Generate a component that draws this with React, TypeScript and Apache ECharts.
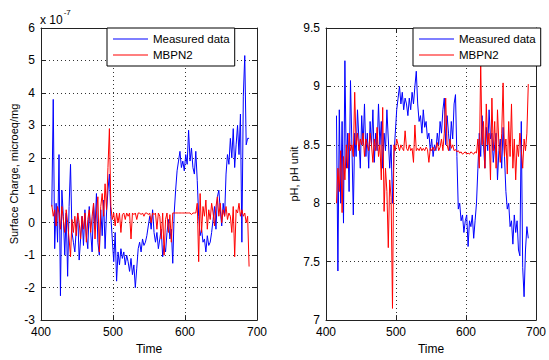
import React, { useEffect, useRef } from "react";
import * as echarts from "echarts";

const TIMES = [
  415, 417, 419, 421, 423, 425, 427, 429, 431, 433,
  435, 437, 439, 441, 443, 445, 447, 449, 451, 453,
  455, 457, 459, 461, 463, 465, 467, 469, 471, 473,
  475, 477, 479, 481, 483, 485, 487, 489, 491, 493,
  495, 497, 499, 501, 503, 505, 507, 509, 511, 513,
  515, 517, 519, 521, 523, 525, 527, 529, 531, 533,
  535, 537, 539, 541, 543, 545, 547, 549, 551, 553,
  555, 557, 559, 561, 563, 565, 567, 569, 571, 573,
  575, 577, 579, 581, 583, 585, 587, 589, 591, 593,
  595, 597, 599, 601, 603, 605, 607, 609, 611, 613,
  615, 617, 619, 621, 623, 625, 627, 629, 631, 633,
  635, 637, 639, 641, 643, 645, 647, 649, 651, 653,
  655, 657, 659, 661, 663, 665, 667, 669, 671, 673,
  675, 677, 679, 681, 683, 685, 687, 689,
];

// Surface charge, in units of 1e-7 microeq/mg
const CHARGE_MEASURED = [
  0.5, 3.8, -0.8, 0.6, -0.6, 2.1, -2.25, 1.0, 0.2, -1.0,
  0.3, -1.65, 0.5, 1.8, -0.3, -0.6, -0.9, -0.2, 0.3, -1.15,
  -0.5, 0.2, -0.7, 0.4, -0.4, -0.8, 0.5, -0.3, -0.9, 0.6,
  -0.2, 0.9, -0.6, -1.0, 0.4, -0.4, 0.7, -0.8, 0.3, 1.0,
  1.5, 0.2, -0.5, -1.2, -0.3, -1.8, -0.9, -1.3, -0.8, -1.1,
  -0.9, -1.3, -1.0, -1.2, -1.5, -1.1, -1.6, -1.3, -2.0, -1.4,
  -0.8, -0.6, -0.9, -0.5, -0.7, -0.6, -0.4, -0.1, 0.2, -0.2,
  0.4, -0.3, -0.6, -0.3, -0.8, -0.5, -0.2, -1.05, -0.7, -0.9,
  -0.3, 0.1, -0.5, -0.2, -1.25, 0.3, 1.0, 1.6, 1.9, 2.2,
  1.7, 1.9, 1.6, 2.1, 1.8, 2.85, 1.9, 2.3, 1.7, 1.5,
  2.2, 1.3, 0.2, -0.4, -0.2, -0.6, -0.5, -0.9, -0.4, -0.7,
  -0.6, -0.3, 0.1, 0.5, -0.2, 0.8, 1.0, 0.4, -0.1, 0.6,
  0.2, 1.5, 2.1, 1.8, 2.6, 2.0, 2.9, 1.7, 2.4, 3.0,
  2.1, 3.35, -0.6, 3.9, 5.15, 2.4, 2.6, 2.6,
];

const CHARGE_MBPN2 = [
  0.55, 0.2, 0.4, -0.1, 0.5, 0.3, -0.2, 0.5, 0.1, -0.3,
  0.4, 0.0, -0.5, -1.05, 0.1, -0.3, 0.2, -0.4, 0.3, 0.0,
  -0.5, 0.2, -0.2, 0.3, -0.6, 0.1, 0.4, -0.3, 0.2, 0.6,
  -0.5, 0.3, 0.8, -0.9, 0.5, 0.9, 0.2, 1.2, 0.4, 1.7,
  2.9, 0.5, 0.1, 0.3, -0.1, 0.3, 0.0, 0.3, -0.3, 0.25,
  0.3, 0.1, 0.3, 0.2, 0.3, -0.5, 0.3, 0.25, 0.3, 0.1,
  0.3, 0.3, 0.25, 0.3, 0.2, 0.3, 0.3, 0.25, 0.3, 0.0,
  0.3, 0.25, 0.3, -0.2, 0.3, 0.2, -0.5, 0.3, -1.0, 0.1,
  0.3, -0.3, 0.25, -0.6, 0.3, 0.3, 0.3, 0.3, 0.3, 0.3,
  0.3, 0.3, 0.3, 0.3, 0.3, 0.3, 0.3, 0.25, 0.3, 0.3,
  0.3, 0.6, -1.2, 0.9, -0.3, 0.5, 0.2, 0.7, -0.2, 0.4,
  0.1, 0.6, 0.3, -0.1, 0.5, 0.8, 0.2, 0.6, 0.0, 0.4,
  0.2, 0.5, 0.1, 0.3, 0.2, -0.3, 0.5, -1.05, 0.4, 0.3,
  0.6, 0.2, 0.4, 0.2, 0.3, 0.0, 0.2, -1.35,
];

const PH_MEASURED = [
  8.75, 7.42, 8.8, 8.0, 8.7, 7.83, 9.22, 8.3, 8.6, 8.1,
  9.05, 8.5, 7.9, 8.6, 8.4, 8.8, 8.55, 8.3, 8.75, 8.5,
  8.85, 8.4, 8.6, 8.3, 8.7, 8.5, 8.8, 8.35, 8.6, 8.45,
  8.85, 8.5, 8.7, 8.3, 8.6, 8.45, 8.8, 8.55, 8.3, 8.5,
  8.0, 8.4, 8.6, 8.8, 8.9, 9.0, 8.85, 8.95, 8.8, 8.9,
  8.85, 8.75, 8.9, 8.8, 8.95, 8.85, 9.0, 9.13, 8.85, 8.7,
  8.75, 8.6, 8.8, 8.65, 8.7, 8.55, 8.6, 8.45, 8.55, 8.4,
  8.5, 8.45, 8.6, 8.5, 8.7, 8.6, 8.8, 8.9, 8.5, 8.75,
  8.6, 8.45, 8.7, 8.55, 8.85, 8.93, 8.4, 7.95, 8.0, 7.85,
  7.9, 7.75, 7.85, 7.9, 7.63, 7.85, 7.8, 7.9, 7.7, 7.85,
  8.0, 8.3, 8.6, 8.4, 8.75, 8.5, 8.3, 8.65, 8.45, 8.8,
  8.55, 8.6, 8.35, 8.5, 8.6, 8.2, 8.45, 8.55, 8.3, 8.65,
  8.4, 8.1, 7.95, 8.0, 7.8, 7.85, 7.65, 7.9, 7.75, 7.85,
  7.6, 7.55, 8.7, 7.45, 7.2, 7.6, 7.8, 7.7,
];

const PH_MBPN2 = [
  8.0, 8.3, 8.1, 8.45, 7.92, 8.4, 8.2, 8.5, 8.3, 8.6,
  8.45, 8.5, 8.4, 8.95, 8.5, 8.6, 8.45, 8.55, 8.5, 8.6,
  8.4, 8.55, 8.5, 8.45, 8.6, 8.5, 8.35, 8.55, 8.45, 8.65,
  8.4, 8.5, 8.2, 8.82, 7.93, 8.3, 8.1, 7.62, 8.2, 8.05,
  7.1, 8.5, 8.45, 8.55, 8.5, 8.45, 8.5, 8.47, 8.45, 8.62,
  8.47, 8.45, 8.5, 8.45, 8.47, 8.35, 8.67, 8.45, 8.47, 8.45,
  8.48, 8.45, 8.47, 8.45, 8.48, 8.46, 8.35, 8.47, 8.45, 8.48,
  8.45, 8.47, 8.52, 8.45, 8.48, 8.55, 8.45, 8.6, 8.9, 8.5,
  8.45, 8.55, 8.47, 8.5, 8.45, 8.46, 8.44, 8.45, 8.43, 8.44,
  8.42, 8.43, 8.44, 8.42, 8.43, 8.42, 8.44, 8.43, 8.42, 8.44,
  8.43, 8.55, 8.3, 9.2, 8.5, 8.7, 8.3, 8.85, 8.5, 8.6,
  8.2, 8.9, 8.45, 8.7, 8.3, 8.8, 8.5, 8.35, 8.6, 9.03,
  8.4, 8.55, 8.25, 8.7, 8.4, 8.85, 8.3, 8.55, 8.2, 8.5,
  8.4, 8.6, 8.45, 8.3, 8.55, 8.45, 8.6, 9.02,
];

const SERIES_NAMES = ["Measured data", "MBPN2"];
const X_LABEL = "Time";
const Y_LABEL_LEFT = "Surface Charge, microeq/mg";
const Y_LABEL_RIGHT = "pH, pH unit";

const FONT = "'Liberation Sans', Arial, Helvetica, sans-serif";
const AXIS_COLOR = "#222";
const DOT = { color: "#333", type: [1, 3] as number[], width: 1 };

function pairs(vals: number[]) {
  return TIMES.map((t, i) => [t, vals[i]]);
}

export default function App() {
  const ref = useRef<HTMLDivElement>(null);
  useEffect(() => {
    if (!ref.current) return;
    const chart = echarts.init(ref.current, undefined, { renderer: "svg" });

    const mainX = (gridIndex: number) => ({
      type: "value",
      gridIndex,
      min: 400,
      max: 700,
      interval: 100,
      name: X_LABEL,
      nameLocation: "middle",
      nameGap: 18,
      nameTextStyle: { fontFamily: FONT, fontSize: 12, color: "#000" },
      axisLine: { show: true, onZero: false, lineStyle: { color: AXIS_COLOR } },
      axisTick: { show: true, inside: true, length: 5, lineStyle: { color: AXIS_COLOR } },
      axisLabel: { fontFamily: FONT, fontSize: 12, lineHeight: 12, color: "#000", margin: 6 },
      splitLine: { show: true, lineStyle: DOT },
    });
    const topX = (gridIndex: number) => ({
      type: "value",
      gridIndex,
      position: "top",
      min: 400,
      max: 700,
      interval: 100,
      axisLine: { show: true, onZero: false, lineStyle: { color: AXIS_COLOR } },
      axisTick: { show: true, inside: true, length: 5, lineStyle: { color: AXIS_COLOR } },
      axisLabel: { show: false },
      splitLine: { show: false },
    });
    const mainY = (gridIndex: number, min: number, max: number, interval: number, name: string, gap: number) => ({
      type: "value",
      gridIndex,
      min,
      max,
      interval,
      name,
      nameLocation: "middle",
      nameGap: gap,
      nameRotate: 90,
      nameTextStyle: { fontFamily: FONT, fontSize: 11, color: "#000" },
      axisLine: { show: true, onZero: false, lineStyle: { color: AXIS_COLOR } },
      axisTick: { show: true, inside: true, length: 5, lineStyle: { color: AXIS_COLOR } },
      axisLabel: { fontFamily: FONT, fontSize: 12, lineHeight: 11, color: "#000", margin: 6 },
      splitLine: { show: true, lineStyle: DOT },
    });
    const rightY = (gridIndex: number, min: number, max: number, interval: number) => ({
      type: "value",
      gridIndex,
      position: "right",
      min,
      max,
      interval,
      axisLine: { show: true, onZero: false, lineStyle: { color: AXIS_COLOR } },
      axisTick: { show: true, inside: true, length: 5, lineStyle: { color: AXIS_COLOR } },
      axisLabel: { show: false },
      splitLine: { show: false },
    });

    const line = (name: string, color: string, xi: number, yi: number, vals: number[]) => ({
      type: "line",
      name,
      xAxisIndex: xi,
      yAxisIndex: yi,
      data: pairs(vals),
      symbol: "none",
      showSymbol: false,
      lineStyle: { color, width: 1 },
      itemStyle: { color },
    });

    const legend = (left: number) => ({
      left,
      top: 28,
      orient: "vertical",
      data: SERIES_NAMES,
      selectedMode: false,
      icon: "rect",
      backgroundColor: "#fff",
      borderColor: "#000",
      borderWidth: 1,
      borderRadius: 0,
      padding: [5, 5, 5, 6],
      itemWidth: 35,
      itemHeight: 1,
      itemGap: 4,
      textStyle: { fontFamily: FONT, fontSize: 11.5, color: "#000", lineHeight: 12 },
    });

    chart.setOption({
      animation: false,
      backgroundColor: "#fff",
      grid: [
        { left: 41, right: 292, top: 28, bottom: 29, show: false },
        { left: 326, right: 8, top: 28, bottom: 29, show: false },
      ],
      xAxis: [mainX(0), topX(0), mainX(1), topX(1)],
      yAxis: [
        mainY(0, -3, 6, 1, Y_LABEL_LEFT, 22),
        rightY(0, -3, 6, 1),
        mainY(1, 7, 9.5, 0.5, Y_LABEL_RIGHT, 26),
        rightY(1, 7, 9.5, 0.5),
      ],
      legend: [legend(107), legend(413)],
      series: [
        line(SERIES_NAMES[0], "#0000ff", 0, 0, CHARGE_MEASURED),
        line(SERIES_NAMES[1], "#ff0000", 0, 0, CHARGE_MBPN2),
        line(SERIES_NAMES[0], "#0000ff", 2, 2, PH_MEASURED),
        line(SERIES_NAMES[1], "#ff0000", 2, 2, PH_MBPN2),
      ],
      graphic: [
        {
          type: "text",
          left: 40,
          top: 8,
          style: {
            text: "{a|x 10}{b|-7}",
            rich: {
              a: { fontFamily: FONT, fontSize: 12, fill: "#000", padding: [6, 0, 0, 0] },
              b: { fontFamily: FONT, fontSize: 8, fill: "#000", verticalAlign: "top", padding: [0, 0, 0, 1] },
            },
          },
        },
      ],
    });
    return () => chart.dispose();
  }, []);
  return (
    <div
      ref={ref}
      style={{ position: "absolute", left: 0, top: 0, width: 549, height: 360 }}
    />
  );
}
